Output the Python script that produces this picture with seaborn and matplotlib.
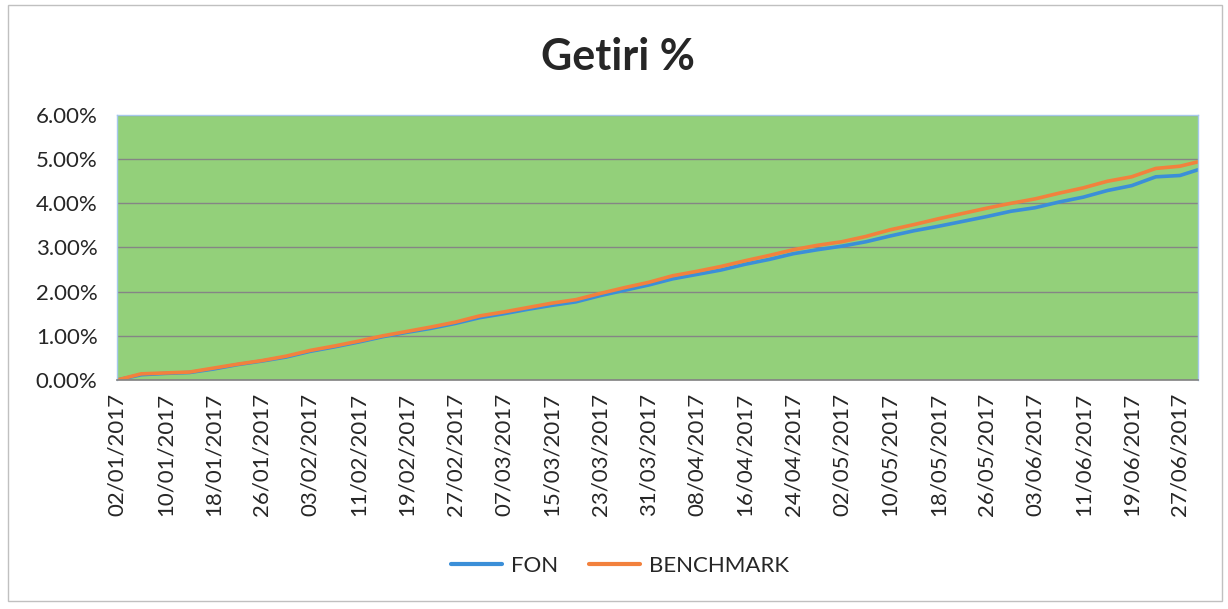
import matplotlib.pyplot as plt
import matplotlib.dates as mdates
from matplotlib.patches import Rectangle
import pandas as pd
import seaborn as sns

# readings taken every 4 days from 02/01/2017, last one on 30/06/2017
dates = list(pd.date_range('2017-01-02', periods=45, freq='4D')) + [pd.Timestamp('2017-06-30')]

fon = [0.00, 0.12, 0.15, 0.17, 0.25, 0.35, 0.43, 0.52, 0.65, 0.75,
       0.86, 0.98, 1.08, 1.17, 1.28, 1.41, 1.50, 1.60, 1.69, 1.77,
       1.91, 2.03, 2.15, 2.29, 2.39, 2.49, 2.62, 2.73, 2.86, 2.95,
       3.03, 3.13, 3.26, 3.38, 3.48, 3.59, 3.70, 3.82, 3.90, 4.03,
       4.14, 4.29, 4.40, 4.60, 4.63, 4.76]
benchmark = [0.00, 0.14, 0.16, 0.18, 0.27, 0.36, 0.44, 0.54, 0.67, 0.77,
             0.88, 1.00, 1.10, 1.20, 1.31, 1.45, 1.54, 1.64, 1.74, 1.82,
             1.96, 2.09, 2.21, 2.36, 2.46, 2.57, 2.70, 2.82, 2.95, 3.05,
             3.13, 3.25, 3.40, 3.52, 3.65, 3.77, 3.89, 4.00, 4.10, 4.23,
             4.35, 4.50, 4.60, 4.79, 4.84, 4.94]

series_names = ['FON', 'BENCHMARK']
colors = ['#3b8fd8', '#f2813d']
y_ticks = [0, 1, 2, 3, 4, 5, 6]
tick_dates = pd.date_range('2017-01-02', '2017-06-27', freq='8D')

df = pd.DataFrame({
    'date': dates * 2,
    'value': fon + benchmark,
    'series': ['FON'] * len(fon) + ['BENCHMARK'] * len(benchmark),
})

sns.set_theme(style='white')
plt.rcParams['font.family'] = ['Lato', 'DejaVu Sans']

fig = plt.figure(figsize=(12.28, 6.09), dpi=100)
ax = fig.add_axes([0.0953, 0.376, 0.8803, 0.4352])
ax.set_facecolor('#93d07a')

sns.lineplot(
    data=df,
    x='date',
    y='value',
    hue='series',
    hue_order=series_names,
    palette=colors,
    linewidth=2.6,
    ax=ax,
    legend=False,
)

ax.set_ylim(0, 6)
ax.set_yticks(y_ticks)
ax.set_yticklabels([f'{v:.2f}%' for v in y_ticks], fontsize=16, color='#262626')
ax.yaxis.grid(True, color='#858585', linewidth=1.0)
ax.set_axisbelow(True)

ax.set_xlim(dates[0], dates[-1])
ax.set_xticks(tick_dates)
ax.xaxis.set_major_formatter(mdates.DateFormatter('%d/%m/%Y'))
plt.setp(ax.get_xticklabels(), rotation=90, fontsize=16, color='#262626')
ax.tick_params(axis='x', length=0, pad=9)
ax.tick_params(axis='y', length=0, pad=14)
ax.set_xlabel('')
ax.set_ylabel('')

for side in ['left', 'right', 'top']:
    ax.spines[side].set_color('#a6c8ec')
    ax.spines[side].set_linewidth(1.0)
ax.spines['bottom'].set_color('#858585')

fig.text(0.503, 0.906, 'Getiri %', ha='center', va='center',
         fontsize=31, fontweight='bold', color='#262626')

handles = [plt.Line2D([], [], color=c, linewidth=3) for c in colors]
fig.legend(
    handles, series_names,
    loc='center', bbox_to_anchor=(0.505, 1 - 566 / 609),
    ncol=2, frameon=False, fontsize=16,
    handlelength=2.3, handletextpad=0.4, columnspacing=1.4,
)

fig.patches.append(Rectangle((8 / 1228, 1 - 601 / 609), 1214 / 1228, 596 / 609,
                             transform=fig.transFigure, fill=False,
                             edgecolor='#c0c0c0', linewidth=1.0))

fig.savefig('out.png', dpi=100, facecolor='white')
